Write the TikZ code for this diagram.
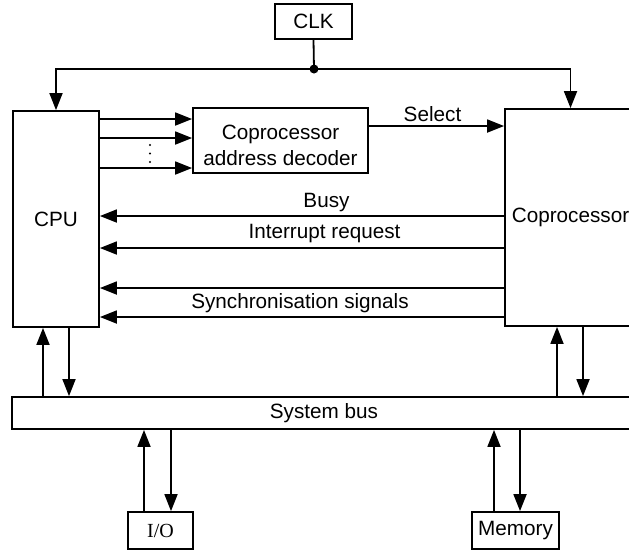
\documentclass[tikz,border=0pt]{standalone}
\usepackage{fontspec}
\setmainfont{Liberation Sans}
\newfontfamily\ioserif{Liberation Serif}
\usetikzlibrary{arrows.meta}
\begin{document}
\begin{tikzpicture}[x=1pt,y=-1pt,
  every node/.style={font=\fontsize{20.7}{25}\selectfont},
  box/.style={draw, line width=1.8pt, inner sep=0pt, align=center},
  conn/.style={line width=1.8pt},
  arr/.style={conn, -{Triangle[length=17pt,width=13pt]}},
  lbl/.style={anchor=base, inner sep=0pt}]
\useasboundingbox (0,0) rectangle (629,550);
\fill[white] (0,0) rectangle (629,550);
\clip (0,0) rectangle (629,550);

% boxes
\node[box, minimum width=77pt, minimum height=35pt] (clk) at (313.5,21.5) {CLK};
\node[box, minimum width=86pt, minimum height=216pt] (cpu) at (56,219) {CPU};
\node[box, minimum width=175pt, minimum height=65pt] (dec) at (280.5,140.5) {};
\node[lbl] (dect1) at (280.5,139) {Coprocessor};
\node[lbl] (dect2) at (280.5,165) {address decoder};
\node[box, minimum width=131pt, minimum height=217pt] (cop) at (570.5,217.5) {Coprocessor};
\node[box, minimum width=624pt, minimum height=32pt] (bus) at (324,413) {System bus};
\node[box, minimum width=65pt, minimum height=37pt, font=\ioserif\fontsize{20}{24}\selectfont] (io) at (160.5,530.5) {I/O};
\node[box, minimum width=87pt, minimum height=37pt] (mem) at (515.5,530.5) {Memory};

% clock distribution
\coordinate (jn) at (314,69);
\draw[conn] (clk.south) -- (jn);
\draw[arr] (jn) -| (cpu.north);
\draw[arr] (jn) -| (cop.north);
\fill (jn) circle (4.5pt);

% CPU to decoder
\foreach \yy in {119,138,168}
  \draw[arr] (cpu.east |- 0,\yy) -- (dec.west |- 0,\yy);
\foreach \yy in {145,153.5,162}
  \fill (150,\yy) circle (1.1pt);

% select
\draw[arr] (dec.east |- 0,126) -- (cop.west |- 0,126);
\node[lbl] (lsel) at (432.5,121) {Select};

% coprocessor to CPU
\foreach \yy in {216,248,288,317}
  \draw[arr] (cop.west |- 0,\yy) -- (cpu.east |- 0,\yy);
\node[lbl] (lbusy) at (326.5,207.5) {Busy};
\node[lbl] (lint) at (324.5,238.5) {Interrupt request};
\node[lbl] (lsync) at (300,308) {Synchronisation signals};

% bus connections
\draw[arr] (43,0 |- bus.north) -- (43,0 |- cpu.south);
\draw[arr] (69,0 |- cpu.south) -- (69,0 |- bus.north);
\draw[arr] (557,0 |- bus.north) -- (557,0 |- cop.south);
\draw[arr] (583,0 |- cop.south) -- (583,0 |- bus.north);
\draw[arr] (144,0 |- io.north) -- (144,0 |- bus.south);
\draw[arr] (171,0 |- bus.south) -- (171,0 |- io.north);
\draw[arr] (494,0 |- mem.north) -- (494,0 |- bus.south);
\draw[arr] (520,0 |- bus.south) -- (520,0 |- mem.north);
\end{tikzpicture}
\end{document}
